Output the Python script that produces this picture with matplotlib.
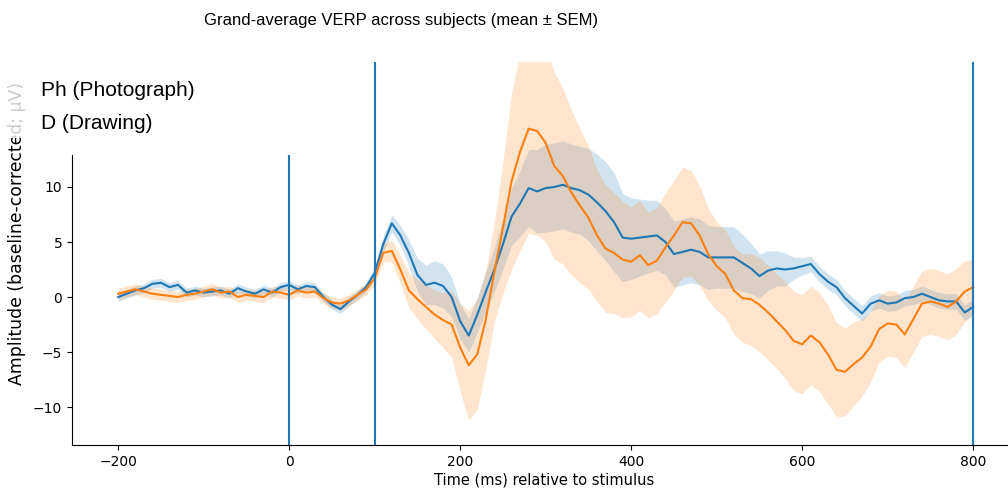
import numpy as np
import matplotlib
matplotlib.use("Agg")
import matplotlib.pyplot as plt
from matplotlib.patches import Rectangle
from matplotlib.lines import Line2D

# time grid (ms) the values below were read at
times = np.arange(-200, 801, 10)

# Ph (Photograph) grand-average and SEM
ph_mean = [0.0, 0.3, 0.6, 0.8, 1.2, 1.3, 0.9, 1.1, 0.4, 0.6,
           0.4, 0.5, 0.6, 0.3, 0.8, 0.5, 0.3, 0.7, 0.4, 0.9,
           1.1, 0.7, 1.0, 0.9, 0.0, -0.7, -1.1, -0.4, 0.2, 0.9,
           2.2, 4.8, 6.7, 5.6, 4.0, 2.0, 1.1, 1.3, 1.0, 0.0,
           -2.2, -3.5, -1.6, 0.5, 2.5, 4.8, 7.3, 8.5, 9.9, 9.6,
           9.9, 10.0, 10.2, 9.9, 9.7, 9.3, 8.6, 7.8, 6.8, 5.4,
           5.3, 5.4, 5.5, 5.6, 5.0, 3.9, 4.1, 4.3, 4.1, 3.6,
           3.6, 3.6, 3.6, 3.1, 2.6, 1.9, 2.4, 2.6, 2.5, 2.6,
           2.8, 3.0, 2.1, 1.4, 0.9, -0.1, -0.8, -1.5, -0.6, -0.3,
           -0.6, -0.5, -0.1, 0.0, 0.3, 0.0, -0.3, -0.4, -0.4, -1.4,
           -0.9]
ph_sem = [0.4, 0.4, 0.4, 0.4, 0.4, 0.4, 0.4, 0.4, 0.4, 0.4,
          0.4, 0.4, 0.4, 0.4, 0.4, 0.4, 0.4, 0.4, 0.4, 0.4,
          0.4, 0.4, 0.4, 0.4, 0.4, 0.4, 0.4, 0.4, 0.4, 0.4,
          0.5, 0.7, 0.8, 0.9, 1.2, 1.5, 1.8, 2.0, 2.0, 1.8,
          1.6, 1.5, 1.6, 1.8, 2.0, 2.3, 2.6, 3.0, 3.5, 3.8,
          4.0, 4.0, 4.0, 4.0, 4.0, 4.2, 4.4, 4.5, 4.5, 4.0,
          3.7, 3.5, 3.3, 3.2, 3.0, 3.0, 3.0, 3.0, 3.0, 2.9,
          2.8, 2.8, 2.8, 2.6, 2.3, 2.0, 1.8, 1.6, 1.5, 1.0,
          0.8, 0.7, 0.7, 0.7, 0.7, 0.7, 0.7, 0.7, 0.7, 0.7,
          0.7, 0.7, 0.7, 0.7, 0.7, 0.7, 0.7, 0.7, 0.7, 0.7,
          0.7]

# D (Drawing) grand-average and SEM
d_mean = [0.3, 0.5, 0.7, 0.5, 0.3, 0.2, 0.1, 0.0, 0.2, 0.3,
          0.5, 0.7, 0.4, 0.5, 0.0, 0.2, 0.1, 0.0, 0.5, 0.4,
          0.2, 0.6, 0.4, 0.5, -0.1, -0.5, -0.6, -0.3, 0.2, 0.7,
          1.7, 4.0, 4.2, 2.5, 0.6, -0.2, -0.9, -1.6, -2.1, -2.5,
          -4.6, -6.2, -5.2, -2.0, 2.3, 6.3, 10.5, 13.2, 15.3, 15.1,
          14.0, 11.9, 11.0, 9.5, 8.3, 7.2, 5.6, 4.4, 4.0, 3.4,
          3.2, 3.8, 2.9, 3.3, 4.5, 5.6, 6.8, 6.7, 5.6, 3.9,
          2.8, 2.1, 0.6, -0.1, -0.2, -0.7, -1.4, -2.2, -3.0, -4.0,
          -4.3, -3.5, -4.1, -5.2, -6.6, -6.8, -6.1, -5.5, -4.5, -2.9,
          -2.4, -2.5, -3.4, -2.0, -0.6, -0.4, -0.6, -0.9, -0.4, 0.5,
          0.9]
d_sem = [0.5, 0.5, 0.5, 0.5, 0.5, 0.5, 0.5, 0.5, 0.5, 0.5,
         0.5, 0.5, 0.5, 0.5, 0.5, 0.5, 0.5, 0.5, 0.5, 0.5,
         0.5, 0.5, 0.5, 0.5, 0.5, 0.5, 0.5, 0.5, 0.5, 0.5,
         0.6, 0.8, 1.0, 1.3, 1.6, 1.8, 2.0, 2.2, 2.5, 3.0,
         4.0, 5.0, 5.0, 4.5, 4.5, 6.0, 8.0, 9.0, 9.5, 9.5,
         9.0, 8.5, 8.0, 7.5, 7.0, 6.5, 6.0, 5.8, 5.5, 5.3,
         5.0, 5.0, 4.8, 4.8, 5.0, 5.0, 5.0, 4.8, 4.5, 4.2,
         4.0, 4.0, 4.0, 4.0, 4.2, 4.3, 4.3, 4.3, 4.4, 4.5,
         4.5, 4.5, 4.5, 4.5, 4.3, 4.0, 3.8, 3.5, 3.2, 3.0,
         3.0, 3.0, 3.0, 3.0, 3.0, 3.0, 3.0, 3.0, 3.0, 2.8,
         2.5]

marker_times = [0, 100, 800]
labels = ["Ph (Photograph)", "D (Drawing)"]

narrow = ["Liberation Sans", "DejaVu Sans"]

fig = plt.figure(figsize=(10.08, 4.92), dpi=100)
ax = fig.add_axes([72 / 1008, 1 - 445 / 492, (1016 - 72) / 1008, (445 - 62) / 492])

ph_mean = np.array(ph_mean)
ph_sem = np.array(ph_sem)
d_mean = np.array(d_mean)
d_sem = np.array(d_sem)

ax.plot(times, ph_mean, color="C0", lw=1.5)
ax.fill_between(times, ph_mean - ph_sem, ph_mean + ph_sem, color="C0", alpha=0.2, lw=0)
ax.plot(times, d_mean, color="C1", lw=1.5)
ax.fill_between(times, d_mean - d_sem, d_mean + d_sem, color="C1", alpha=0.2, lw=0)

for t in marker_times:
    ax.axvline(t, color="C0", lw=1.5)

ax.set_xlim(-254, 850)
ax.set_ylim(-13.45, 21.36)
ax.set_yticks([-10, -5, 0, 5, 10])
ax.set_xticks([-200, 0, 200, 400, 600, 800])
ax.tick_params(labelsize=10)
ax.spines["top"].set_visible(False)
ax.spines["right"].set_visible(False)

ax.set_xlabel("Time (ms) relative to stimulus", fontsize=10.5, labelpad=3)
ax.set_ylabel("Amplitude (baseline-corrected; µV)", fontsize=12.4)
ax.yaxis.set_label_coords(-0.049, 0.553)

# white block over the top-left corner where the legend sits
fig.add_artist(Rectangle((30 / 1008, 1 - 155 / 492), 265 / 1008, 100 / 492,
                         transform=fig.transFigure, facecolor="white",
                         edgecolor="none", zorder=3))
fig.add_artist(Rectangle((0, 1 - 138 / 492), 30 / 1008, 83 / 492,
                         transform=fig.transFigure, facecolor="white",
                         edgecolor="none", alpha=0.8, zorder=3))

handles = [Line2D([], [], linestyle="none") for _ in labels]
leg = fig.legend(handles, labels, loc="upper left",
                 bbox_to_anchor=(22 / 1008, 1 - 62 / 492),
                 frameon=False, handlelength=0, handletextpad=0,
                 labelspacing=0.68, prop={"family": narrow, "size": 15})
leg.set_zorder(4)

fig.text(401 / 1008, 1 - 20 / 492, "Grand-average VERP across subjects (mean ± SEM)",
         ha="center", va="center", fontsize=12, family=narrow)

fig.savefig("out.png", dpi=100)
